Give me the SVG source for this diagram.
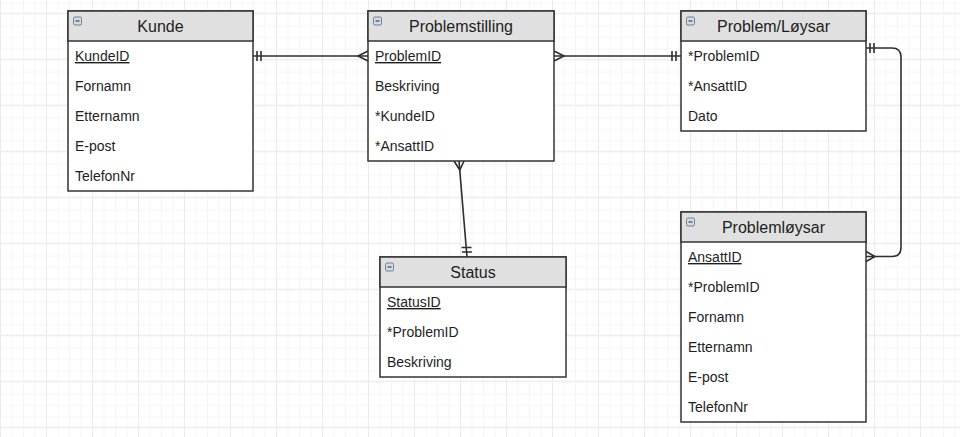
<svg xmlns="http://www.w3.org/2000/svg" width="960" height="437" viewBox="0 0 960 437">
  <defs>
    <pattern id="gridMinor" width="11.5" height="11.5" patternUnits="userSpaceOnUse" x="0" y="12.7">
      <path d="M0 0.5H11.5M0.5 0V11.5" fill="none" stroke="#f5f5f5" stroke-width="1"/>
    </pattern>
    <pattern id="gridMajor" width="46" height="46" patternUnits="userSpaceOnUse" x="0" y="12.7">
      <rect width="46" height="46" fill="url(#gridMinor)"/>
      <path d="M0 0.5H46M0.5 0V46" fill="none" stroke="#ebebeb" stroke-width="1"/>
    </pattern>
    <g id="collapse">
      <rect x="0.5" y="0.5" width="8" height="8" rx="1.5" fill="#d4dbe2" stroke="#6f8192" stroke-width="1"/>
      <line x1="2.5" y1="4.5" x2="6.5" y2="4.5" stroke="#3a4a5a" stroke-width="1.2"/>
    </g>
  </defs>
  <style>
    .box { fill: #ffffff; stroke: #333333; stroke-width: 1.5; }
    .head { fill: #e0e0e0; stroke: #333333; stroke-width: 1.5; }
    .title { font-family: "Liberation Sans", Arial, sans-serif; font-size: 16px; fill: #1e1e1e; text-anchor: middle; }
    .row { font-family: "Liberation Sans", Arial, sans-serif; font-size: 14px; fill: #1e1e1e; }
    .pk { text-decoration: underline; }
    .conn { fill: none; stroke: #2e2e2e; stroke-width: 1.6; }
  </style>

  <rect width="960" height="437" fill="#ffffff"/>
  <rect width="960" height="437" fill="url(#gridMajor)"/>

  <!-- Connectors -->
  <g id="connectors">
    <!-- Kunde 1 — N Problemstilling -->
    <line class="conn" x1="253" y1="56" x2="368" y2="56"/>
    <path class="conn" d="M257 51V61M261 51V61"/>
    <path class="conn" d="M368 51L358 56L368 61"/>
    <!-- Problemstilling N — 1 Problem/Løysar -->
    <line class="conn" x1="554" y1="56" x2="681" y2="56"/>
    <path class="conn" d="M554 51L564 56L554 61"/>
    <path class="conn" d="M672 51V61M676 51V61"/>
    <!-- Problemstilling N — 1 Status -->
    <line class="conn" x1="459" y1="161" x2="467" y2="257"/>
    <path class="conn" d="M454 161L459.8 170L464 161"/>
    <path class="conn" d="M461.5 247.5H471.5M461.9 252H471.9"/>
    <!-- Problem/Løysar 1 — N Problemløysar -->
    <path class="conn" d="M866 48H892Q901 48 901 57V247.5Q901 256.5 892 256.5H866"/>
    <path class="conn" d="M870 43V53M874 43V53"/>
    <path class="conn" d="M866 251.5L875 256.5L866 261.5"/>
  </g>

  <!-- Kunde -->
  <g id="kunde">
    <rect class="box" x="68" y="11" width="185" height="180"/>
    <rect class="head" x="68" y="11" width="185" height="30"/>
    <use href="#collapse" x="73" y="16.5"/>
    <text class="title" x="160.5" y="32">Kunde</text>
    <text class="row pk" x="75" y="61">KundeID</text>
    <text class="row" x="75" y="91">Fornamn</text>
    <text class="row" x="75" y="121">Etternamn</text>
    <text class="row" x="75" y="151">E-post</text>
    <text class="row" x="75" y="181">TelefonNr</text>
  </g>

  <!-- Problemstilling -->
  <g id="problemstilling">
    <rect class="box" x="368" y="11" width="186" height="150"/>
    <rect class="head" x="368" y="11" width="186" height="30"/>
    <use href="#collapse" x="373" y="16.5"/>
    <text class="title" x="461" y="32">Problemstilling</text>
    <text class="row pk" x="375" y="61">ProblemID</text>
    <text class="row" x="375" y="91">Beskriving</text>
    <text class="row" x="375" y="121">*KundeID</text>
    <text class="row" x="375" y="151">*AnsattID</text>
  </g>

  <!-- Problem/Løysar -->
  <g id="problem-loysar">
    <rect class="box" x="681" y="11" width="185" height="120"/>
    <rect class="head" x="681" y="11" width="185" height="30"/>
    <use href="#collapse" x="686" y="16.5"/>
    <text class="title" x="773.5" y="32">Problem/Løysar</text>
    <text class="row" x="688" y="61">*ProblemID</text>
    <text class="row" x="688" y="91">*AnsattID</text>
    <text class="row" x="688" y="121">Dato</text>
  </g>

  <!-- Status -->
  <g id="status">
    <rect class="box" x="380" y="257" width="186" height="120"/>
    <rect class="head" x="380" y="257" width="186" height="30"/>
    <use href="#collapse" x="385" y="262.5"/>
    <text class="title" x="473" y="278">Status</text>
    <text class="row pk" x="387" y="307">StatusID</text>
    <text class="row" x="387" y="337">*ProblemID</text>
    <text class="row" x="387" y="367">Beskriving</text>
  </g>

  <!-- Problemløysar -->
  <g id="problemloysar">
    <rect class="box" x="681" y="212" width="185" height="210"/>
    <rect class="head" x="681" y="212" width="185" height="30"/>
    <use href="#collapse" x="686" y="217.5"/>
    <text class="title" x="773.5" y="233">Problemløysar</text>
    <text class="row pk" x="688" y="262">AnsattID</text>
    <text class="row" x="688" y="292">*ProblemID</text>
    <text class="row" x="688" y="322">Fornamn</text>
    <text class="row" x="688" y="352">Etternamn</text>
    <text class="row" x="688" y="382">E-post</text>
    <text class="row" x="688" y="412">TelefonNr</text>
  </g>
</svg>
